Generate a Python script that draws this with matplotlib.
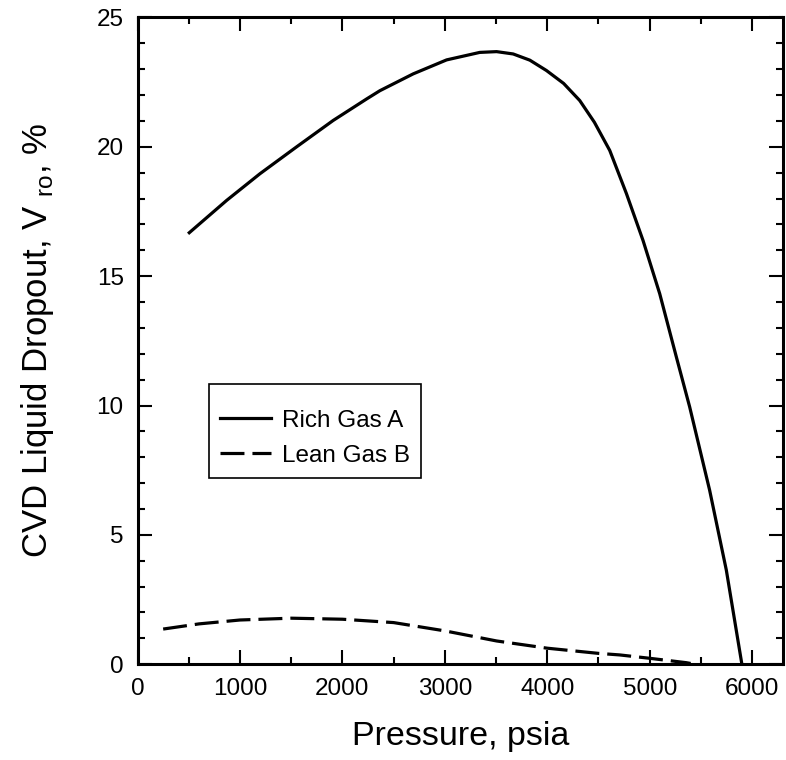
import numpy as np
import matplotlib.pyplot as plt
from matplotlib.ticker import MultipleLocator

plt.rcParams['font.family'] = ['Liberation Sans', 'DejaVu Sans']
plt.rcParams['mathtext.fontset'] = 'custom'
plt.rcParams['mathtext.rm'] = 'Liberation Sans'

# Rich Gas A
rich_p = [505, 870, 1195, 1553, 1910, 2236, 2366, 2691, 3017, 3341, 3505, 3667, 3830, 3992,
          4160, 4317, 4460, 4610, 4773, 4935, 5098, 5260, 5390, 5585, 5748, 5900]
rich_v = [16.68, 17.93, 18.96, 20.0, 21.02, 21.85, 22.17, 22.82, 23.36, 23.65, 23.68, 23.59, 23.35, 22.95,
          22.45, 21.79, 20.95, 19.86, 18.19, 16.38, 14.32, 11.88, 9.95, 6.73, 3.64, 0.0]

# Lean Gas B
lean_p = [250, 600, 1000, 1500, 2000, 2500, 3000, 3505, 4000, 4500, 4707, 5000, 5358, 5400]
lean_v = [1.36, 1.56, 1.71, 1.78, 1.74, 1.61, 1.29, 0.9, 0.62, 0.42, 0.36, 0.23, 0.06, 0.03]

fig = plt.figure(figsize=(7.86, 7.6), dpi=100)
ax = fig.add_axes([0.175, 0.126, 0.821, 0.851])

ax.plot(rich_p, rich_v, color='black', lw=2.3, label='Rich Gas A')
ax.plot(lean_p, lean_v, color='black', lw=2.3, dashes=(7.5, 2.5), label='Lean Gas B')

ax.set_xlim(0, 6300)
ax.set_ylim(0, 25)
ax.xaxis.set_major_locator(MultipleLocator(1000))
ax.xaxis.set_minor_locator(MultipleLocator(500))
ax.yaxis.set_major_locator(MultipleLocator(5))
ax.yaxis.set_minor_locator(MultipleLocator(1))
ax.tick_params(which='both', direction='in', top=True, right=True, width=1.5, labelsize=17.5)
ax.tick_params(which='major', length=10, pad=10)
ax.tick_params(which='minor', length=5)
for s in ax.spines.values():
    s.set_linewidth(2.2)

ax.set_xlabel('Pressure, psia', fontsize=24.5, labelpad=15)
ax.set_ylabel(r'CVD Liquid Dropout, V $_{\rm ro}$, %', fontsize=25, labelpad=29)

# tiny blank title gives the extra top padding seen in the original box
leg = ax.legend(loc='upper left', bbox_to_anchor=(0.111, 0.433), borderaxespad=0,
                fancybox=False, edgecolor='black', fontsize=17.5, handlelength=2.1,
                handletextpad=0.45, borderpad=0.45, labelspacing=0.55, framealpha=1,
                title=' ', title_fontsize=1)
leg.get_frame().set_linewidth(1.2)

fig.savefig('out.png', dpi=100)
